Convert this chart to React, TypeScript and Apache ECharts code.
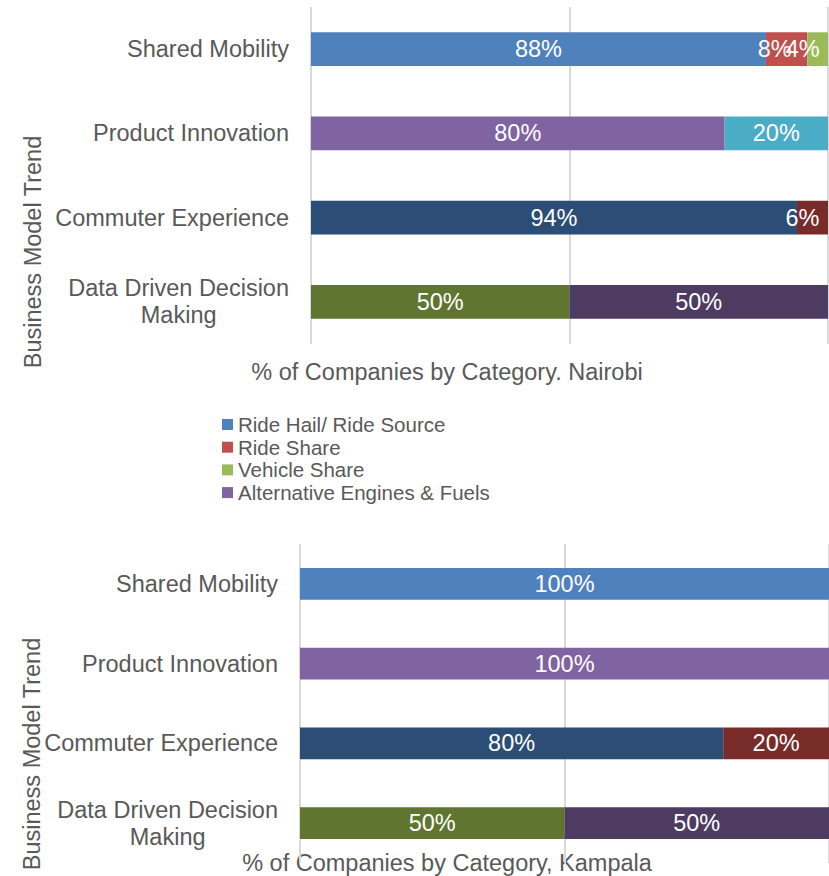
import React, { useEffect, useRef } from "react";
import * as echarts from "echarts";

const categories = [
  "Shared Mobility",
  "Product Innovation",
  "Commuter Experience",
  "Data Driven Decision Making",
];

const seriesNames = [
  "Ride Hail/ Ride Source",
  "Ride Share",
  "Vehicle Share",
  "Alternative Engines & Fuels",
  "Category 5",
  "Category 6",
  "Category 7",
  "Category 8",
  "Category 9",
];

const legendNames = seriesNames.slice(0, 4);

const seriesColors = [
  "#4F81BD",
  "#C0504D",
  "#9BBB59",
  "#8064A2",
  "#4BACC6",
  "#2C4D75",
  "#772C2A",
  "#5F7530",
  "#4D3B62",
];

// Nairobi values (per series, per category; null = no bar)
const nairobiRideHail = [88, null, null, null];
const nairobiRideShare = [8, null, null, null];
const nairobiVehicleShare = [4, null, null, null];
const nairobiAltEngines = [null, 80, null, null];
const nairobiCat5 = [null, 20, null, null];
const nairobiCat6 = [null, null, 94, null];
const nairobiCat7 = [null, null, 6, null];
const nairobiCat8 = [null, null, null, 50];
const nairobiCat9 = [null, null, null, 50];

// Kampala values
const kampalaRideHail = [100, null, null, null];
const kampalaRideShare = [null, null, null, null];
const kampalaVehicleShare = [null, null, null, null];
const kampalaAltEngines = [null, 100, null, null];
const kampalaCat5 = [null, null, null, null];
const kampalaCat6 = [null, null, 80, null];
const kampalaCat7 = [null, null, 20, null];
const kampalaCat8 = [null, null, null, 50];
const kampalaCat9 = [null, null, null, 50];

const nairobiData = [
  nairobiRideHail,
  nairobiRideShare,
  nairobiVehicleShare,
  nairobiAltEngines,
  nairobiCat5,
  nairobiCat6,
  nairobiCat7,
  nairobiCat8,
  nairobiCat9,
];
const kampalaData = [
  kampalaRideHail,
  kampalaRideShare,
  kampalaVehicleShare,
  kampalaAltEngines,
  kampalaCat5,
  kampalaCat6,
  kampalaCat7,
  kampalaCat8,
  kampalaCat9,
];

const xTicks = [0, 50, 100];

// label nudges (style only): [seriesIndex, categoryIndex, dx] for the Nairobi chart
const nairobiLabelNudges: [number, number, number][] = [
  [1, 0, -12],
  [2, 0, -15],
  [6, 2, -10],
];

const FONT = '"Liberation Sans", Arial, sans-serif';
const GREY = "#595959";
const FS = 23.5;

export default function App() {
  const ref = useRef<HTMLDivElement>(null);

  useEffect(() => {
    if (!ref.current) return;
    const chart = echarts.init(ref.current, undefined, { renderer: "svg" });

    const makeSeries = (
      data: (number | null)[][],
      axisIndex: number,
      stack: string,
      nudges: [number, number, number][]
    ) =>
      data.map((vals, i) => ({
        name: seriesNames[i],
        type: "bar",
        stack,
        xAxisIndex: axisIndex,
        yAxisIndex: axisIndex,
        barWidth: "40%",
        itemStyle: { color: seriesColors[i] },
        label: {
          show: true,
          position: "inside",
          color: "#FFFFFF",
          fontSize: FS,
          fontFamily: FONT,
          formatter: (p: any) => (p.value == null || p.value === "-" ? "" : p.value + "%"),
        },
        data: vals.map((v, j) => {
          if (v == null) return "-";
          const n = nudges.find((q) => q[0] === i && q[1] === j);
          return n ? { value: v, label: { offset: [n[2], 0] } } : v;
        }),
      }));

    const xAxisCommon = {
      type: "value",
      min: xTicks[0],
      max: xTicks[xTicks.length - 1],
      interval: xTicks[1] - xTicks[0],
      axisLabel: { show: false },
      axisLine: { show: false },
      axisTick: { show: false },
      splitLine: { show: true, lineStyle: { color: "#D9D9D9", width: 2 } },
    };

    const yAxisCommon = {
      type: "category",
      inverse: true,
      data: categories,
      axisLine: { show: false },
      axisTick: { show: false },
      axisLabel: {
        fontSize: FS,
        color: GREY,
        fontFamily: FONT,
        margin: 22,
        lineHeight: 27,
        formatter: (v: string) =>
          v === "Data Driven Decision Making"
            ? "{c|Data Driven Decision}\n{c|Making}"
            : v,
        rich: {
          c: {
            align: "center",
            fontSize: FS,
            color: GREY,
            fontFamily: FONT,
            lineHeight: 27,
          },
        },
      },
    };

    const titleText = (text: string, x: number, y: number, rot = 0) => ({
      type: "text",
      x,
      y,
      rotation: rot,
      style: {
        text,
        fill: GREY,
        font: `${FS}px ${FONT}`,
        textAlign: "center",
        textVerticalAlign: "middle",
      },
    });

    chart.setOption({
      animation: false,
      textStyle: { fontFamily: FONT },
      legend: {
        data: legendNames,
        orient: "vertical",
        left: 217,
        top: 409,
        padding: 5,
        itemWidth: 11,
        itemHeight: 11,
        itemGap: 1.7,
        icon: "rect",
        textStyle: { fontSize: 20.5, color: GREY, fontFamily: FONT },
      },
      grid: [
        { left: 311, top: 7, width: 517, height: 337, containLabel: false },
        { left: 300, top: 544, width: 529, height: 319, containLabel: false },
      ],
      xAxis: [
        { ...xAxisCommon, gridIndex: 0 },
        { ...xAxisCommon, gridIndex: 1 },
      ],
      yAxis: [
        { ...yAxisCommon, gridIndex: 0 },
        { ...yAxisCommon, gridIndex: 1 },
      ],
      graphic: [
        titleText("% of Companies by Category. Nairobi", 447, 372),
        titleText("Business Model Trend", 33, 252, Math.PI / 2),
        titleText("% of Companies by Category, Kampala", 447, 863),
        titleText("Business Model Trend", 32, 754, Math.PI / 2),
      ],
      series: [
        ...makeSeries(nairobiData, 0, "nairobi", nairobiLabelNudges),
        ...makeSeries(kampalaData, 1, "kampala", []),
      ],
    });

    return () => chart.dispose();
  }, []);

  return (
    <div
      ref={ref}
      style={{ position: "absolute", left: 0, top: 0, width: 829, height: 876 }}
    />
  );
}
